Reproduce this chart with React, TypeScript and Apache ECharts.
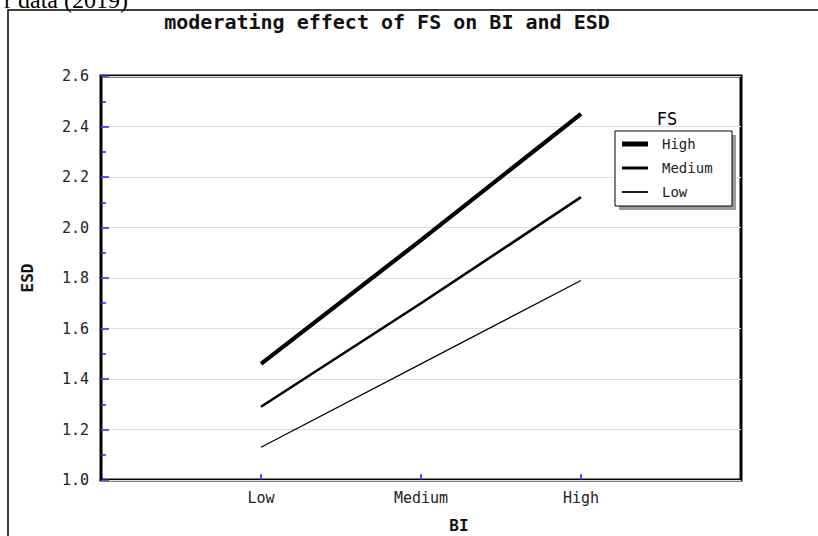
import React, { useEffect, useRef } from "react";
import * as echarts from "echarts";

const categories = ["Low", "Medium", "High"];
const seriesNames = ["High", "Medium", "Low"];
const highValues = [1.46, 1.95, 2.45];
const mediumValues = [1.29, 1.7, 2.12];
const lowValues = [1.13, 1.46, 1.79];

const MONO = "'DejaVu Sans Mono', 'Liberation Mono', monospace";

export default function App() {
  const ref = useRef<HTMLDivElement>(null);

  useEffect(() => {
    if (!ref.current) return;
    const chart = echarts.init(ref.current, null, { renderer: "svg" });
    const toPts = (vals: number[]) => vals.map((v, i) => [i + 1, v]);
    const widths = [4.2, 2.6, 1.2];
    const legendWidths = [5, 3, 1.8];
    const allVals = [highValues, mediumValues, lowValues];

    const legendItems: any[] = [];
    seriesNames.forEach((name, i) => {
      legendItems.push({
        type: "line",
        z: 20,
        shape: { x1: 622, y1: 144 + i * 24, x2: 648, y2: 144 + i * 24 },
        style: { stroke: "#000", lineWidth: legendWidths[i] },
      });
      legendItems.push({
        type: "text",
        z: 20,
        x: 662,
        y: 144 + i * 24,
        style: {
          text: name,
          font: `14px ${MONO}`,
          fill: "#222",
          verticalAlign: "middle",
          align: "left",
        },
      });
    });

    chart.setOption({
      animation: false,
      backgroundColor: "#fff",
      grid: {
        left: 101,
        top: 76,
        width: 640,
        height: 404,
        show: true,
        borderColor: "#000",
        borderWidth: 3,
        containLabel: false,
        outerBoundsMode: "none",
      },
      xAxis: {
        type: "value",
        min: 0,
        max: 4,
        interval: 1,
        axisLine: { show: false },
        splitLine: { show: false },
        axisTick: {
          show: true,
          inside: true,
          length: 6,
          lineStyle: { color: "#2020ff", width: 1.5 },
          customValues: [1, 2, 3],
        },
        axisLabel: {
          customValues: [1, 2, 3],
          formatter: (v: number) => categories[v - 1] ?? "",
          fontFamily: MONO,
          fontSize: 15,
          color: "#222",
          margin: 10,
        },
        name: "BI",
        nameLocation: "middle",
        nameGap: 37,
        nameTextStyle: {
          fontFamily: MONO,
          fontWeight: "bold",
          fontSize: 16,
          color: "#111",
          padding: [0, 0, 0, 76],
        },
      },
      yAxis: {
        type: "value",
        min: 1.0,
        max: 2.6,
        interval: 0.2,
        axisLine: { show: false },
        splitLine: { show: true, lineStyle: { color: "#dedede", width: 1 } },
        axisTick: {
          show: true,
          inside: true,
          length: 8,
          lineStyle: { color: "#2020ff", width: 1.5 },
        },
        minorTick: {
          show: true,
          splitNumber: 2,
          length: 5,
          lineStyle: { color: "#2020ff", width: 1.5 },
        },
        axisLabel: {
          formatter: (v: number) => v.toFixed(1),
          fontFamily: MONO,
          fontSize: 15,
          color: "#222",
          margin: 12,
        },
        name: "ESD",
        nameLocation: "middle",
        nameRotate: 90,
        nameGap: 66,
        nameTextStyle: {
          fontFamily: MONO,
          fontWeight: "bold",
          fontSize: 16,
          color: "#111",
        },
      },
      series: seriesNames.map((name, i) => ({
        name,
        type: "line",
        data: toPts(allVals[i]),
        showSymbol: false,
        symbol: "none",
        lineStyle: { color: "#000", width: widths[i] },
        z: 5,
      })),
      graphic: [
        {
          type: "text",
          x: 4,
          y: 12,
          style: {
            text: "r data (2019)",
            font: "24px 'Liberation Serif', serif",
            fill: "#000",
            verticalAlign: "bottom",
            align: "left",
          },
        },
        {
          type: "rect",
          shape: { x: 8, y: 10, width: 900, height: 700 },
          style: { fill: "none", stroke: "#000", lineWidth: 1.5 },
        },
        {
          type: "text",
          x: 387,
          y: 22,
          style: {
            text: "moderating effect of FS on BI and ESD",
            font: `bold 20px ${MONO}`,
            fill: "#111",
            verticalAlign: "middle",
            align: "center",
          },
        },
        {
          type: "text",
          x: 667,
          y: 119,
          style: {
            text: "FS",
            font: `17px ${MONO}`,
            fill: "#000",
            verticalAlign: "middle",
            align: "center",
          },
        },
        {
          type: "rect",
          z: 10,
          shape: { x: 619, y: 135, width: 117, height: 75 },
          style: { fill: "#9a9a9a", stroke: "none" },
        },
        {
          type: "rect",
          z: 11,
          shape: { x: 615, y: 131, width: 117, height: 75 },
          style: { fill: "#fff", stroke: "#000", lineWidth: 1 },
        },
        ...legendItems,
      ],
    });
    return () => chart.dispose();
  }, []);

  return (
    <div
      ref={ref}
      style={{ position: "fixed", left: 0, top: 0, width: 818, height: 536 }}
    />
  );
}
